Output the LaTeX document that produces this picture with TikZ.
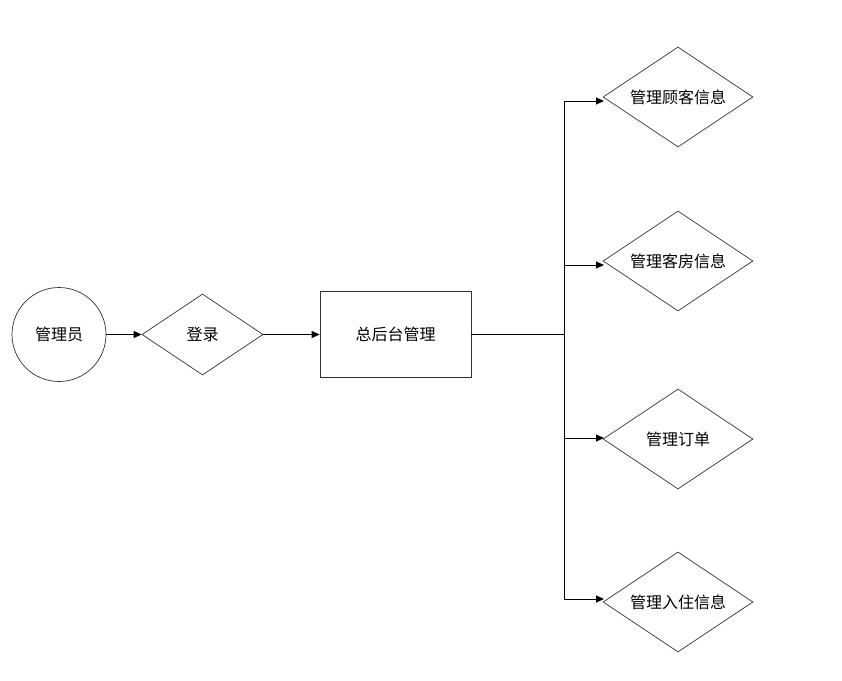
\documentclass[tikz,border=0pt]{standalone}
\usepackage{fontspec}
\setmainfont{Noto Sans CJK SC}
\usetikzlibrary{shapes.geometric,arrows.meta}
\begin{document}
\begin{tikzpicture}[x=1pt,y=-1pt,
  shapeline/.style={draw=black!80,line width=0.7pt},
  txt/.style={font=\fontsize{16}{19}\selectfont},
  dia/.style={shapeline,diamond,inner sep=0pt,aspect=1.5,txt},
  conn/.style={draw=black,line width=0.9pt},
  arr/.style={conn,-{Triangle[length=8pt,width=7pt]}}]
\useasboundingbox (0,0) rectangle (842,680);
\fill[white] (0,0) rectangle (842,680);
\node[shapeline,circle,minimum size=94pt,inner sep=0pt,txt] (admin) at (59,334.5) {管理员};
\node[dia,minimum width=121pt,minimum height=81pt] (login) at (202.5,334.5) {登录};
\node[shapeline,rectangle,minimum width=151pt,minimum height=86pt,inner sep=0pt,txt] (main) at (395.5,334.5) {总后台管理};
\node[dia,minimum width=150pt,minimum height=100pt] (d1) at (678,97) {管理顾客信息};
\node[dia,minimum width=150pt,minimum height=100pt] (d2) at (678,261) {管理客房信息};
\node[dia,minimum width=150pt,minimum height=100pt] (d3) at (678,439) {管理订单};
\node[dia,minimum width=150pt,minimum height=100pt] (d4) at (678,602) {管理入住信息};
\coordinate (j) at (564,334.5);
\coordinate (t1) at (564,101);
\coordinate (t2) at (564,265);
\coordinate (t3) at (564,438);
\coordinate (t4) at (564,599);
\coordinate (e1) at (604,101);
\coordinate (e2) at (604,265);
\coordinate (e3) at (604,438);
\coordinate (e4) at (604,599);
\draw[arr] (admin.east) -- (login.west);
\draw[arr] (login.east) -- (main.west);
\draw[conn] (main.east) -- (j);
\draw[conn] (t1) -- (t4);
\draw[arr] (t1) -- (e1);
\draw[arr] (t2) -- (e2);
\draw[arr] (t3) -- (e3);
\draw[arr] (t4) -- (e4);
\end{tikzpicture}
\end{document}
